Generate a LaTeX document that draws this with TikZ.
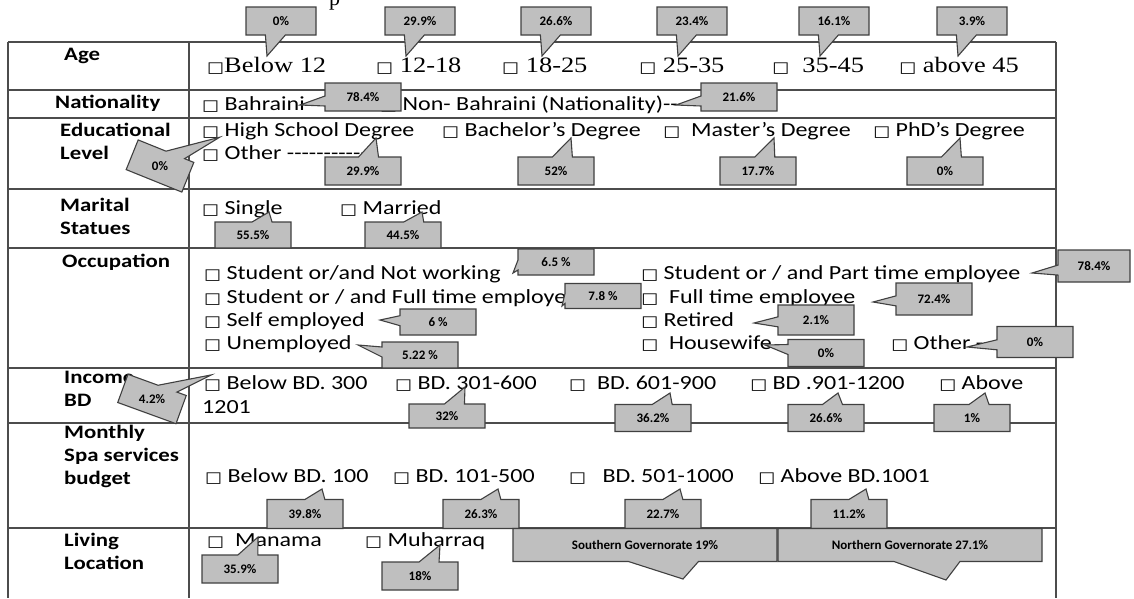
\documentclass[tikz,border=0pt]{standalone}
\usepackage{fontspec}
\setmainfont{Carlito}
\newfontfamily\serifrm{Liberation Serif}
\newfontfamily\boxfont{DejaVu Sans}
\usetikzlibrary{shapes.callouts}
\newcommand{\bx}{{\boxfont\fontsize{15}{15}\selectfont □}}
\newcommand{\hy}{-\kern0pt}

\begin{document}
\begin{tikzpicture}[
  x=1pt, y=-1pt,
  rule/.style={draw=black!70, line width=1.3pt},
  lbl/.style={anchor=west, inner sep=0pt, align=left, xscale=1.2, font=\fontsize{19}{23}\selectfont\bfseries},
  opt/.style={anchor=base west, inner sep=0pt, xscale=1.2, font=\fontsize{20}{23}\selectfont},
  optrm/.style={opt, font=\fontsize{22}{24}\selectfont\serifrm},
  pct/.style={rectangle callout, draw=black!75, fill=black!25, line width=1.1pt,
    minimum width=76pt, minimum height=28pt, inner sep=1pt,
    font=\fontsize{13}{13}\selectfont\bfseries, callout pointer width=20pt},
  side/.style={pct, callout pointer width=10pt},
  pcttxt/.style={font=\fontsize{13}{13}\selectfont\bfseries, inner sep=0pt}
]
\useasboundingbox (0,0) rectangle (1134,598);
\clip (0,0) rectangle (1134,598);
\node[anchor=base west, inner sep=0pt, font=\fontsize{22}{24}\selectfont\serifrm] (cut) at (329,5) {p};

% table rules
\draw[rule] (8,42) -- (1056,42);
\foreach \y in {90,118,189,248,368,423,528} \draw[rule] (8,\y) -- (1056,\y);
\draw[rule] (8,42) -- (8,598) (189,42) -- (189,598) (1056,42) -- (1056,598);

% row labels
\node[lbl] (lAge) at (64,56) {Age};
\node[lbl] (lNat) at (55,103) {Nationality};
\node[lbl] (lEdu) at (60,141) {Educational\\Level};
\node[lbl] (lMar) at (60,216) {Marital\\Statues};
\node[lbl] (lOcc) at (62,262) {Occupation};
\node[lbl] (lInc) at (64,389) {Income\\BD};
\node[lbl] (lBud) at (64,456) {Monthly\\Spa services\\budget};
\node[lbl] (lLiv) at (64,551) {Living\\Location};

% Age
\node[optrm] (a1) at (207,72) {\bx Below 12};
\node[optrm] (a2) at (376,72) {\bx\ 12-18};
\node[optrm] (a3) at (502,72) {\bx\ 18-25};
\node[optrm] (a4) at (639,72) {\bx\ 25-35};
\node[optrm] (a5) at (772,72) {\bx\ \ 35-45};
\node[optrm] (a6) at (899,72) {\bx\ above 45};

% Nationality
\node[opt] (n1) at (202,110) {\bx\ Bahraini};
\node[opt] (n2) at (380,110) {\bx\ Non- Bahraini (Nationality)\hy\hy\hy};

% Educational level
\node[opt] (e1) at (202,136) {\bx\ High School Degree};
\node[opt] (e2) at (442,136) {\bx\ Bachelor's Degree};
\node[opt] (e3) at (663,136) {\bx\ \ Master's Degree};
\node[opt] (e4) at (873,136) {\bx\ PhD's Degree};
\node[opt] (e5) at (202,159) {\bx\ Other \hy\hy\hy\hy\hy\hy\hy\hy\hy\hy\hy};

% Marital
\node[opt] (m1) at (202,214) {\bx\ Single};
\node[opt] (m2) at (340,214) {\bx\ Married};

% Occupation
\node[opt] (o1) at (204,279) {\bx\ Student or/and Not working};
\node[opt] (o2) at (204,303) {\bx\ Student or / and Full time employee};
\node[opt] (o3) at (204,326) {\bx\ Self employed};
\node[opt] (o4) at (204,349) {\bx\ Unemployed};
\node[opt] (o5) at (641,279) {\bx\ Student or / and Part time employee};
\node[opt] (o6) at (641,303) {\bx\ \ Full time employee};
\node[opt] (o7) at (641,326) {\bx\ Retired};
\node[opt] (o8) at (641,349) {\bx\ \ Housewife};
\node[opt] (o9) at (891,349) {\bx\ Other \hy\hy\hy};

% Income
\node[opt] (i1) at (204,389) {\bx\ Below BD. 300};
\node[opt] (i2) at (395,389) {\bx\ BD. 301-600};
\node[opt] (i3) at (569,389) {\bx\ \ BD. 601-900};
\node[opt] (i4) at (750,389) {\bx\ BD .901-1200};
\node[opt] (i5) at (939,389) {\bx\ Above};
\node[opt] (i6) at (202,413) {1201};

% Budget
\node[opt] (b1) at (205,482) {\bx\ Below BD. 100};
\node[opt] (b2) at (393,482) {\bx\ BD. 101-500};
\node[opt] (b3) at (569,482) {\bx\ \ \ BD. 501-1000};
\node[opt] (b4) at (758,482) {\bx\ Above BD.1001};

% Living location
\node[opt] (v1) at (207,546) {\bx\ \ Manama};
\node[opt] (v2) at (365,546) {\bx\ Muharraq};

% callouts: age
\foreach \cx/\txt [count=\i] in {281/0\%, 420/29.9\%, 556/26.6\%, 692/23.4\%, 834/16.1\%, 972/3.9\%}
  \node[pct, minimum width=70pt, callout absolute pointer={(\cx-14,56)}] (pa\i) at (\cx,21) {\txt};

% callouts: nationality
\node[side, callout absolute pointer={(300,105)}] (pn1) at (363,97) {78.4\%};
\node[side, callout absolute pointer={(676,105)}] (pn2) at (739,97) {21.6\%};

% callouts: education
\node[pct, minimum width=60pt, minimum height=32pt, rotate=-22,
  callout relative pointer={(30pt,33pt)}] (pe0) at (160,166) {};
\node[pcttxt] (pe0t) at (pe0.center) {0\%};
\node[pct, callout absolute pointer={(376,138)}] (pe1) at (363,171) {29.9\%};
\node[pct, callout absolute pointer={(571,138)}] (pe2) at (556,171) {52\%};
\node[pct, callout absolute pointer={(774,138)}] (pe3) at (758,171) {17.7\%};
\node[pct, callout absolute pointer={(960,138)}] (pe4) at (945,171) {0\%};

% callouts: marital
\node[pct, minimum height=26pt, callout absolute pointer={(269,212)}] (pm1) at (253,235) {55.5\%};
\node[pct, minimum height=26pt, callout absolute pointer={(422,212)}] (pm2) at (403,235) {44.5\%};

% callouts: occupation
\node[side, minimum height=26pt, callout absolute pointer={(513,273)}] (po1) at (556,262) {6.5 \%};
\node[side, minimum height=25pt, callout absolute pointer={(562,306)}] (po2) at (603,296) {7.8 \%};
\node[side, minimum height=26pt, callout absolute pointer={(380,320)}] (po3) at (438,322) {6 \%};
\node[side, minimum height=26pt, callout absolute pointer={(358,345)}] (po4) at (420,355) {5.22 \%};
\node[side, minimum width=72pt, minimum height=32pt, callout absolute pointer={(1032,273)}] (po5) at (1094,266) {78.4\%};
\node[side, minimum height=32pt, callout absolute pointer={(873,302)}] (po6) at (934,299) {72.4\%};
\node[side, minimum height=30pt, callout absolute pointer={(754,323)}] (po7) at (816,320) {2.1\%};
\node[side, minimum height=27pt, callout absolute pointer={(765,345)}] (po8) at (826,353) {0\%};
\node[side, minimum height=31pt, callout absolute pointer={(967,347)}] (po9) at (1035,342) {0\%};

% callouts: income
\node[pct, minimum width=62pt, minimum height=30pt, rotate=-20,
  callout relative pointer={(31pt,28pt)}] (pi0) at (152,399) {};
\node[pcttxt] (pi0t) at (pi0.center) {4.2\%};
\node[pct, minimum height=24pt, callout absolute pointer={(465,387)}] (pi1) at (447,416) {32\%};
\node[pct, minimum height=27pt, callout absolute pointer={(670,393)}] (pi2) at (653,418) {36.2\%};
\node[pct, minimum height=27pt, callout absolute pointer={(838,393)}] (pi3) at (826,418) {26.6\%};
\node[pct, minimum height=27pt, callout absolute pointer={(985,393)}] (pi4) at (972,418) {1\%};

% callouts: budget
\foreach \cx/\txt [count=\i] in {305/39.8\%, 481/26.3\%, 663/22.7\%, 849/11.2\%}
  \node[pct, minimum height=29pt, callout absolute pointer={(\cx+17,489)}] (pb\i) at (\cx,514) {\txt};

% callouts: living location
\node[pct, callout absolute pointer={(258,537)}] (pl1) at (240,569) {35.9\%};
\node[pct, callout absolute pointer={(440,545)}] (pl2) at (420,576) {18\%};
\node[pct, minimum width=264pt, minimum height=33pt, callout pointer width=70pt,
  callout absolute pointer={(683,579)}] (pl3) at (645,545) {Southern Governorate 19\%};
\node[pct, minimum width=264pt, minimum height=33pt, callout pointer width=66pt,
  callout absolute pointer={(946,580)}] (pl4) at (910,545) {Northern Governorate 27.1\%};
\end{tikzpicture}
\end{document}
